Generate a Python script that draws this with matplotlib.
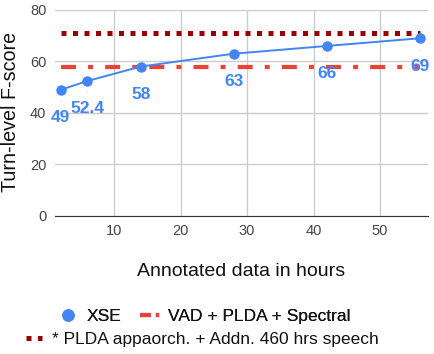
import matplotlib.pyplot as plt
from matplotlib.lines import Line2D

# ==========================================================
# DATA
# ==========================================================

hours = [2, 6, 14, 28, 42, 56]
xse_scores = [49, 52.4, 58, 63, 66, 69]
xse_labels = ["49", "52.4", "58", "63", "66", "69"]

vad_plda_spectral = 58
plda_addn_460 = 71

y_ticks = [0, 20, 40, 60, 80]
x_ticks = [10, 20, 30, 40, 50]

BLUE = "#4285F4"
RED = "#EA4335"
DARK_RED = "#990000"

plt.rcParams["font.family"] = ["Liberation Sans", "DejaVu Sans"]

# ==========================================================
# FIGURE
# ==========================================================

fig = plt.figure(figsize=(4.35, 3.54), dpi=100)
ax = fig.add_axes([0.126, 0.39, 0.858, 0.582])

ax.plot([hours[0], hours[-1]], [plda_addn_460] * 2,
        color=DARK_RED, lw=3.6, linestyle=(0, (1, 1.3)),
        dash_capstyle="butt", zorder=2)
ax.plot([hours[0], hours[-1]], [vad_plda_spectral] * 2,
        color=RED, lw=3.0, linestyle=(0, (3.6, 2.9, 1.2, 2.9)),
        dash_capstyle="butt", zorder=2)
ax.plot(hours, xse_scores, color=BLUE, lw=1.4, marker="o",
        markersize=6.5, zorder=3)

for x, y, lab in zip(hours, xse_scores, xse_labels):
    ax.annotate(lab, xy=(x, y), xytext=(0, -20),
                textcoords="offset points", ha="center", va="center",
                color=BLUE, fontsize=12.5, fontweight="bold",
                arrowprops=dict(arrowstyle="-", color="#e0e0e0", lw=0.8,
                                shrinkA=4, shrinkB=8),
                zorder=4)

ax.set_xlim(1.1, 57.2)
ax.set_ylim(0, 80)
ax.set_xticks(x_ticks)
ax.set_yticks(y_ticks)
ax.grid(True, color="#cccccc", lw=1)
ax.set_axisbelow(True)
ax.tick_params(length=0, labelsize=10.5, colors="#444444", pad=6)
for side in ["left", "right", "top"]:
    ax.spines[side].set_visible(False)
ax.spines["bottom"].set_color("#333333")

fig.text(0.023, 0.685, "Turn-level F-score", rotation=90,
         ha="center", va="center", fontsize=14.2, color="#111111")
fig.text(0.555, 0.232, "Annotated data in hours",
         ha="center", va="center", fontsize=14, color="#111111")

# ==========================================================
# LEGEND
# ==========================================================

h1 = Line2D([], [], color=BLUE, marker="o", linestyle="none", markersize=8)
h2 = Line2D([], [], color=RED, lw=3.0, linestyle=(0, (2.6, 1.2, 0.8, 10)),
            dash_capstyle="butt")
h3 = Line2D([], [], color=DARK_RED, lw=3.6, linestyle=(0, (1, 1.3)),
            dash_capstyle="butt")

leg1 = fig.legend([h1, h2], ["XSE", "VAD + PLDA + Spectral"],
                  loc="center", bbox_to_anchor=(0.47, 0.105), ncol=2,
                  frameon=False, fontsize=12.5, handlelength=1.15,
                  handletextpad=0.45, columnspacing=1.1,
                  labelcolor="#111111")
fig.legend([h3], ["* PLDA appaorch. + Addn. 460 hrs speech"],
           loc="center", bbox_to_anchor=(0.465, 0.04),
           frameon=False, fontsize=12.5, handlelength=0.9,
           handletextpad=0.6, labelcolor="#111111")
fig.add_artist(leg1)

fig.savefig("out.png", dpi=100)
